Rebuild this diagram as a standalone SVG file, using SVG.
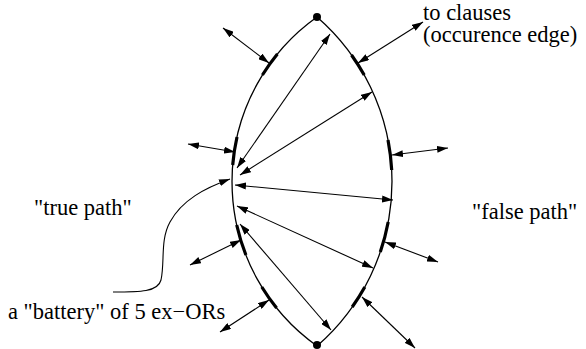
<svg xmlns="http://www.w3.org/2000/svg" width="586" height="349" viewBox="0 0 586 349">
<style>
.curve{fill:none;stroke:#000;stroke-width:1.3}
.thick{fill:none;stroke:#000;stroke-width:3.2}
.arr{fill:none;stroke:#000;stroke-width:1.1;marker-start:url(#ah);marker-end:url(#ah)}
.arr1{fill:none;stroke:#000;stroke-width:1.1;marker-end:url(#ah)}
.lbl{font-family:"Liberation Serif","Times New Roman",serif;font-size:22.5px;fill:#000}
</style>
<defs>
<marker id="ah" markerUnits="userSpaceOnUse" markerWidth="12" markerHeight="7" refX="11" refY="3.5" orient="auto-start-reverse">
<path d="M0,0 L11,3.5 L0,7 z" fill="#000"/>
</marker>
</defs>
<g id="lens">
<path class="curve" d="M317,17 A201.7,201.7 0 0 0 317,346"/>
<path class="curve" d="M317,17 A217.9,217.9 0 0 1 317,346"/>
<circle cx="317" cy="17" r="4" fill="#000"/>
<circle cx="317" cy="345" r="4" fill="#000"/>
</g>
<g id="true-path-xors">
<path class="thick" d="M277.4,54 A201.7,201.7 0 0 0 262.4,75"/>
<path class="thick" d="M237,137 A201.7,201.7 0 0 0 232.7,165"/>
<path class="thick" d="M236.7,225 A201.7,201.7 0 0 0 245.9,255"/>
<path class="thick" d="M261.8,287 A201.7,201.7 0 0 0 276.6,308"/>
</g>
<g id="false-path-xors">
<path class="thick" d="M351.5,55 A217.9,217.9 0 0 1 364.2,75"/>
<path class="thick" d="M388,140 A217.9,217.9 0 0 1 391.7,170"/>
<path class="thick" d="M388.2,222 A217.9,217.9 0 0 1 380.3,252"/>
<path class="thick" d="M364.8,287 A217.9,217.9 0 0 1 352.2,307"/>
</g>
<g id="connectors">
<line class="arr" x1="223" y1="28" x2="269" y2="63"/>
<line class="arr" x1="188" y1="144" x2="235" y2="152"/>
<line class="arr" x1="190" y1="265" x2="241" y2="240"/>
<line class="arr" x1="220" y1="332" x2="269" y2="300"/>
<line class="arr" x1="358" y1="63" x2="423" y2="22"/>
<line class="arr" x1="392" y1="155" x2="448" y2="148"/>
<line class="arr" x1="385" y1="242" x2="438" y2="262"/>
<line class="arr" x1="362" y1="297" x2="415" y2="348"/>
<line class="arr" x1="237" y1="168" x2="330" y2="34"/>
<line class="arr" x1="240" y1="175" x2="372" y2="92"/>
<line class="arr" x1="235" y1="185" x2="393" y2="200"/>
<line class="arr" x1="237" y1="206" x2="373" y2="268"/>
<line class="arr" x1="240" y1="224" x2="331" y2="330"/>
<path class="arr1" d="M113,292 C140,292 158,292 161,280 C165,262 160,240 170,222 C182,200 205,188 230,179"/>
</g>
<g id="labels">
<text class="lbl" x="423" y="20"><tspan x="423" y="20">to clauses</tspan><tspan x="423" y="41.5">(occurence edge)</tspan></text>
<text class="lbl" x="34" y="215">"true path"</text>
<text class="lbl" x="472" y="219">"false path"</text>
<text class="lbl" x="8" y="319">a "battery" of 5 ex−ORs</text>
</g>
</svg>
